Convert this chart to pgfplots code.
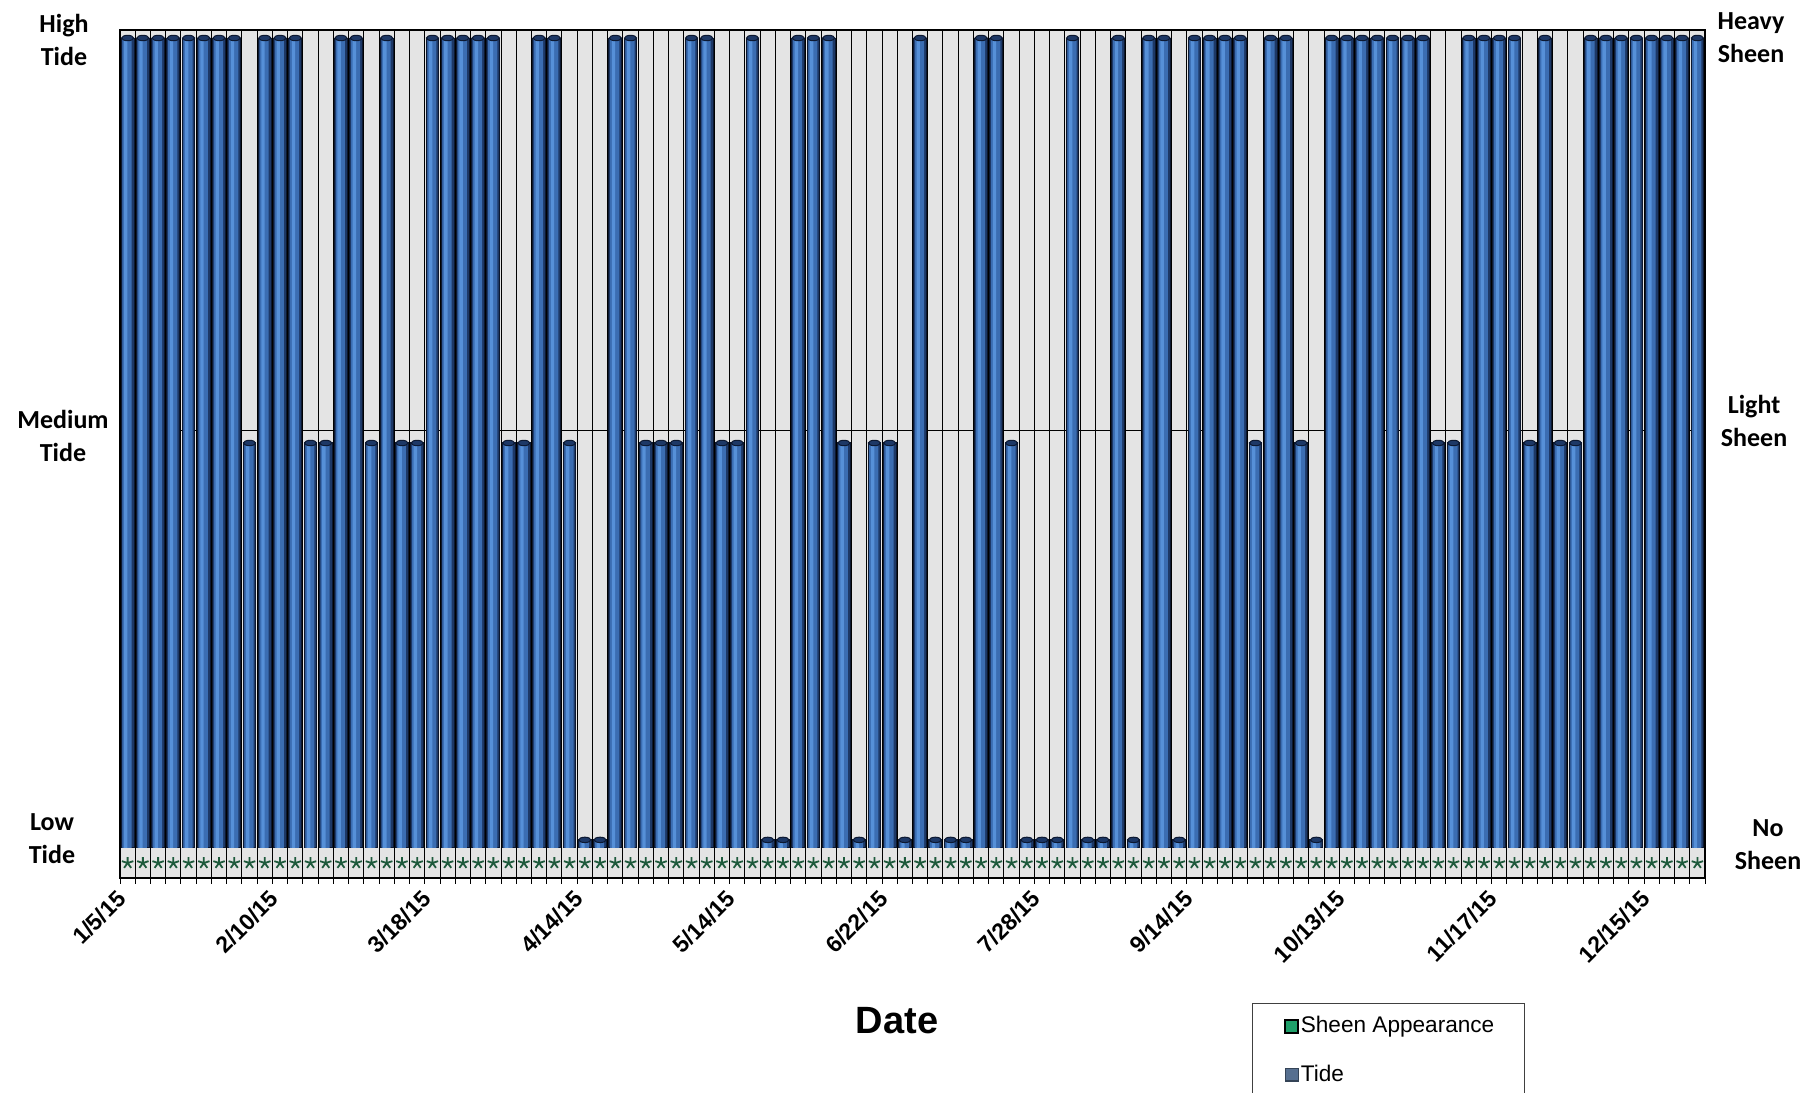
\documentclass[border=0pt]{standalone}
\usepackage{pgfplots}
\pgfplotsset{compat=1.18}
\usepackage{pgfplotstable}
\usepackage{fontspec}
\setmainfont{Liberation Sans}
\newfontfamily\carlito{Carlito}

\definecolor{tideblue}{HTML}{3B6DB2}
\definecolor{tidedark}{HTML}{1D3866}
\definecolor{tideedge}{HTML}{0C1830}
\definecolor{tidelight}{HTML}{5690D8}
\definecolor{wallgray}{HTML}{E4E4E4}
\definecolor{sheengreen}{HTML}{1FA06A}
\definecolor{sheendark}{HTML}{1E5A3C}
\definecolor{legendtide}{HTML}{566F90}

% k = sample number; tide: 0.02 low, 1 medium, 2 high; sheen: 0 no, 1 light, 2 heavy
\pgfplotstableread{
k tide sheen
0 2 0
1 2 0
2 2 0
3 2 0
4 2 0
5 2 0
6 2 0
7 2 0
8 1 0
9 2 0
10 2 0
11 2 0
12 1 0
13 1 0
14 2 0
15 2 0
16 1 0
17 2 0
18 1 0
19 1 0
20 2 0
21 2 0
22 2 0
23 2 0
24 2 0
25 1 0
26 1 0
27 2 0
28 2 0
29 1 0
30 0.02 0
31 0.02 0
32 2 0
33 2 0
34 1 0
35 1 0
36 1 0
37 2 0
38 2 0
39 1 0
40 1 0
41 2 0
42 0.02 0
43 0.02 0
44 2 0
45 2 0
46 2 0
47 1 0
48 0.02 0
49 1 0
50 1 0
51 0.02 0
52 2 0
53 0.02 0
54 0.02 0
55 0.02 0
56 2 0
57 2 0
58 1 0
59 0.02 0
60 0.02 0
61 0.02 0
62 2 0
63 0.02 0
64 0.02 0
65 2 0
66 0.02 0
67 2 0
68 2 0
69 0.02 0
70 2 0
71 2 0
72 2 0
73 2 0
74 1 0
75 2 0
76 2 0
77 1 0
78 0.02 0
79 2 0
80 2 0
81 2 0
82 2 0
83 2 0
84 2 0
85 2 0
86 1 0
87 1 0
88 2 0
89 2 0
90 2 0
91 2 0
92 1 0
93 2 0
94 1 0
95 1 0
96 2 0
97 2 0
98 2 0
99 2 0
100 2 0
101 2 0
102 2 0
103 2 0
}\samples

\pgfplotsset{
  frame/.style={
    at={(60pt,107pt)}, anchor=south west,
    width=792.5pt, height=424pt, scale only axis,
    xmin=-0.5, xmax=103.5,
  },
  tidekey/.style={legend image code/.code={%
    \path (0pt,0pt);
    \draw[draw=legendtide!60!black, line width=0.6pt, fill=legendtide] (13pt,-3.2pt) rectangle (19.5pt,3.2pt);}},
}

\begin{document}
\begin{tikzpicture}
\useasboundingbox (0pt,0pt) rectangle (904.5pt,546pt);

% tide columns
\begin{axis}[frame,
  ymin=-0.0741, ymax=2.0198,
  axis background/.style={fill=wallgray},
  axis line style={black, line width=0.6pt},
  xtick={0,10,...,100},
  xticklabels={1/5/15,2/10/15,3/18/15,4/14/15,5/14/15,6/22/15,7/28/15,9/14/15,10/13/15,11/17/15,12/15/15},
  minor xtick={-0.5,0.5,...,103.5},
  xminorgrids, minor x grid style={black, line width=0.5pt},
  xtick pos=left, tick align=outside,
  major tick length=0pt, minor tick length=3pt,
  minor tick style={black, line width=0.5pt},
  xticklabel style={font=\bfseries\fontsize{11.5}{13}\selectfont,
    xshift=-0.5pt, yshift=-6pt, rotate=45, anchor=east},
  ytick={1.03}, yticklabels={}, ymajorgrids,
  major y grid style={black, line width=0.6pt},
  ytick pos=left,
]
% each column: dark body, mid-blue face, light streak, dark top cap
\addplot[ybar, bar width=0.84, bar shift=0pt, draw=tideedge, line width=0.5pt,
  fill=tidedark] table[x=k, y=tide] {\samples};
\addplot[ybar, bar width=0.6, bar shift=-0.04, draw=none,
  fill=tideblue] table[x=k, y=tide] {\samples};
\addplot[ybar, bar width=0.22, bar shift=-0.12, draw=none,
  fill=tidelight] table[x=k, y=tide] {\samples};
\addplot[only marks, mark=*, mark size=3pt,
  mark options={fill=tidedark, draw=tideedge, line width=0.5pt, yscale=0.45}]
  table[x=k, y=tide] {\samples};
\end{axis}

% sheen appearance along the floor, and the legend
\begin{axis}[frame,
  ymin=-0.0370, ymax=2.0568,
  hide axis,
  legend cell align=left,
  legend style={at={(0.7142,-0.1474)}, anchor=north west,
    draw=black!75, line width=0.6pt, fill=white,
    font=\fontsize{11.3}{13}\selectfont,
    inner xsep=3pt, inner ysep=4.5pt, row sep=10.5pt,
    nodes={inner xsep=0.8pt}},
]
\addplot[only marks, mark=star, mark size=3pt,
  mark options={draw=sheendark, line width=0.9pt},
  legend image code/.code={%
    \path (0pt,0pt);
    \draw[draw=black, line width=1pt, fill=sheengreen] (13pt,-3.2pt) rectangle (19.5pt,3.2pt);}]
  table[x=k, y=sheen] {\samples};
\addlegendentry{\makebox[108pt][l]{Sheen Appearance}}
\addlegendimage{tidekey}
\addlegendentry{\makebox[108pt][l]{Tide}}
\end{axis}

% level names on both sides
\begin{scope}[every node/.style={font=\carlito\bfseries\fontsize{13}{16.5}\selectfont, align=center}]
\node at (32pt,526pt) {High\\Tide};
\node at (31.5pt,328pt) {Medium\\Tide};
\node at (26pt,126.5pt) {Low\\Tide};
\node at (875.5pt,527pt) {Heavy\\Sheen};
\node at (877pt,335.5pt) {Light\\Sheen};
\node at (884pt,123.5pt) {No\\Sheen};
\end{scope}
\node[font=\bfseries\fontsize{19}{22}\selectfont] at (448.5pt,35.5pt) {Date};
\end{tikzpicture}
\end{document}
